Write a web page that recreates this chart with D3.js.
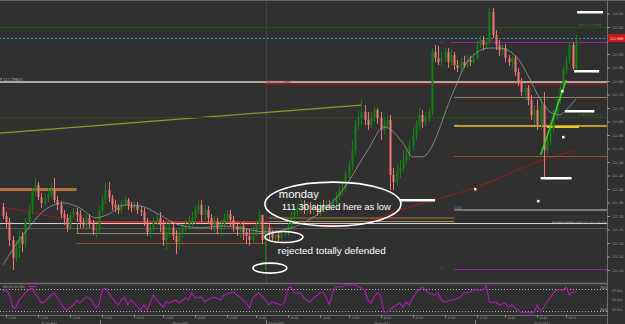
<!DOCTYPE html>
<html><head><meta charset="utf-8">
<script src="https://cdn.jsdelivr.net/npm/d3@7"></script>
<style>html,body{margin:0;padding:0;background:#303030;overflow:hidden}svg{display:block}</style>
</head><body>
<svg id="c" width="625" height="324"></svg>
<script>
// ---------------- DATA ----------------
const firstOpen = 111.333;
const closes = [111.300,111.278,111.211,111.144,111.181,111.226,111.196,111.278,111.322,111.389,
111.415,111.370,111.348,111.367,111.381,111.396,111.359,111.341,111.307,111.293,
111.256,111.304,111.315,111.304,111.278,111.267,111.293,111.270,111.248,111.256,
111.322,111.359,111.396,111.367,111.341,111.330,111.322,111.348,111.359,111.341,
111.330,111.341,111.322,111.315,111.278,111.241,111.256,111.278,111.293,111.267,
111.211,111.241,111.256,111.226,111.204,111.233,111.256,111.263,111.278,111.293,
111.322,111.341,111.304,111.322,111.293,111.267,111.278,111.256,111.270,111.293,
111.307,111.285,111.263,111.248,111.263,111.241,111.226,111.211,111.241,111.270,
111.304,111.211,111.256,111.233,111.219,111.230,111.219,111.233,111.241,111.267,
111.293,111.315,111.330,111.341,111.322,111.341,111.322,111.330,111.315,111.341,
111.330,111.344,111.337,111.352,111.374,111.396,111.404,111.452,111.489,111.544,
111.637,111.663,111.685,111.656,111.637,111.663,111.693,111.663,111.619,111.637,
111.656,111.452,111.426,111.463,111.478,111.507,111.526,111.563,111.600,111.637,
111.674,111.648,111.663,111.685,111.907,111.885,111.870,111.885,111.907,111.870,
111.896,111.859,111.848,111.870,111.856,111.878,111.870,111.885,111.933,111.952,
111.933,111.944,112.056,111.970,111.933,111.915,111.922,111.885,111.870,111.885,
111.833,111.796,111.759,111.774,111.730,111.674,111.693,111.637,111.711,111.544,
111.581,111.626,111.674,111.730,111.774,111.841,111.878,111.933,111.848,111.959];
const highs = [111.348,111.315,111.293,111.226,111.211,111.248,111.241,111.293,111.341,111.404,
111.441,111.426,111.385,111.385,111.404,111.419,111.441,111.374,111.356,111.322,
111.307,111.315,111.330,111.330,111.322,111.293,111.307,111.307,111.285,111.270,
111.337,111.374,111.426,111.426,111.378,111.359,111.344,111.359,111.374,111.367,
111.352,111.352,111.352,111.337,111.330,111.293,111.270,111.293,111.307,111.315,
111.285,111.278,111.278,111.270,111.248,111.256,111.270,111.285,111.300,111.315,
111.337,111.359,111.359,111.341,111.337,111.307,111.300,111.293,111.285,111.307,
111.322,111.322,111.300,111.278,111.278,111.278,111.256,111.248,111.263,111.285,
111.322,111.304,111.267,111.270,111.248,111.248,111.241,111.248,111.256,111.285,
111.315,111.337,111.344,111.359,111.359,111.352,111.352,111.344,111.344,111.352,
111.359,111.359,111.359,111.367,111.389,111.411,111.426,111.470,111.507,111.581,
111.656,111.693,111.730,111.711,111.685,111.685,111.707,111.700,111.685,111.663,
111.674,111.674,111.478,111.489,111.507,111.544,111.552,111.581,111.626,111.656,
111.700,111.693,111.685,111.700,111.922,111.933,111.930,111.907,111.922,111.922,
111.915,111.907,111.878,111.885,111.893,111.896,111.893,111.900,111.952,111.967,
111.967,111.959,112.070,112.070,111.989,111.952,111.937,111.937,111.896,111.900,
111.896,111.848,111.811,111.785,111.785,111.748,111.711,111.730,111.744,111.759,
111.600,111.641,111.693,111.748,111.789,111.856,111.896,111.944,111.944,111.970];
const lows = [111.289,111.256,111.189,111.100,111.130,111.144,111.167,111.181,111.256,111.307,
111.374,111.359,111.330,111.337,111.352,111.367,111.348,111.322,111.293,111.267,
111.241,111.248,111.293,111.278,111.256,111.256,111.248,111.256,111.230,111.219,
111.241,111.307,111.344,111.352,111.322,111.315,111.307,111.307,111.337,111.322,
111.315,111.319,111.307,111.300,111.263,111.226,111.219,111.241,111.263,111.241,
111.189,111.174,111.219,111.211,111.159,111.174,111.219,111.241,111.248,111.263,
111.270,111.307,111.278,111.285,111.270,111.248,111.241,111.233,111.226,111.256,
111.278,111.263,111.241,111.226,111.219,111.211,111.196,111.189,111.196,111.226,
111.256,111.196,111.100,111.211,111.204,111.207,111.204,111.211,111.219,111.226,
111.256,111.278,111.300,111.315,111.307,111.307,111.307,111.307,111.300,111.300,
111.315,111.315,111.322,111.322,111.337,111.359,111.374,111.389,111.433,111.470,
111.526,111.619,111.637,111.637,111.619,111.626,111.648,111.641,111.581,111.600,
111.626,111.396,111.396,111.411,111.441,111.463,111.489,111.507,111.544,111.581,
111.619,111.626,111.633,111.648,111.674,111.870,111.859,111.856,111.870,111.848,
111.856,111.841,111.833,111.833,111.848,111.848,111.856,111.863,111.878,111.922,
111.915,111.922,111.933,111.959,111.915,111.893,111.896,111.870,111.856,111.848,
111.819,111.781,111.744,111.730,111.711,111.656,111.637,111.619,111.619,111.444,
111.526,111.563,111.611,111.656,111.715,111.759,111.826,111.863,111.841,111.841];

// moving averages (candle index, value)
const maFastIdx = [0,4,8,13,19,24,29,33,38,43,49,55,62,68,74,82,90,98,105,114,119,125,128,131,141,145,152,155,160,164,168,171,174,176,179];
const maFastVal = [111.119,111.193,111.256,111.322,111.348,111.330,111.293,111.307,111.341,111.337,111.304,111.267,111.256,111.263,111.256,111.241,111.256,111.304,111.378,111.544,111.630,111.570,111.519,111.519,111.767,111.870,111.922,111.922,111.896,111.822,111.730,111.685,111.674,111.693,111.733];
const maSlowIdx = [0,10,20,27,46,65,82,88,108,124,148,167,179];
const maSlowVal = [111.333,111.311,111.289,111.281,111.278,111.274,111.263,111.252,111.263,111.322,111.407,111.500,111.544];

// RSI (candle index, value)
const rsiIdx = [0,1,2,3,4,5,6,7,8,9,10,11,12,13,15,16,17,18,19,20,22,23,24,26,27,28,29,30,31,32,33,34,35,36,37,38,39,40,41,43,44,45,46,47,48,50,51,52,54,55,57,58,59,60,62,63,65,66,68,69,71,72,74,76,77,78,79,80,82,83,84,85,87,88,89,90,91,93,94,96,97,99,100,101,102,103,104,106,107,108,110,112,113,114,115,116,117,118,119,120,122,123,124,125,126,127,128,129,130,131,132,133,135,136,137,138,140,141,143,144,146,147,148,150,151,152,153,154,155,157,158,159,160,161,162,164,165,166,167,168,169,170,171,172,173,175,176,177,178,179];
const rsiVal = [66.4,68.2,59.1,37.3,35.5,50.0,55.5,64.5,68.2,71.8,62.7,53.6,44.5,46.4,59.1,62.7,53.6,44.5,35.5,31.8,40.9,50.0,44.5,55.5,53.6,46.4,35.5,40.9,68.2,71.8,62.7,55.5,46.4,40.9,50.0,55.5,40.9,50.0,44.5,31.8,40.9,31.8,44.5,59.1,50.0,37.3,46.4,44.5,50.0,44.5,53.6,50.0,62.7,53.6,55.5,46.4,53.6,55.5,50.0,59.1,62.7,64.5,55.5,44.5,35.5,53.6,59.1,62.7,50.0,40.9,46.4,44.5,40.9,44.5,71.8,73.6,62.7,62.7,53.6,46.4,53.6,62.7,64.5,55.5,40.9,64.5,73.6,73.6,77.3,77.3,77.3,71.8,68.2,50.0,44.5,55.5,62.7,59.1,28.2,28.2,37.3,40.9,44.5,37.3,46.4,40.9,53.6,62.7,68.2,73.6,68.2,62.7,59.1,62.7,50.0,46.4,50.0,50.0,55.5,62.7,64.5,68.2,68.2,68.2,77.3,46.4,44.5,46.4,40.9,44.5,37.3,40.9,35.5,31.8,26.4,28.2,26.4,28.2,40.9,28.2,37.3,46.4,53.6,62.7,68.2,68.2,73.6,59.1,64.5,64.5];
const rsiLevels = [70, 30];
const rsiScaleTicks = [67.5, 50, 32.5];

// horizontal levels
const levelNames  = ["fib100","bid","pp","pivot","r1","tan","fib618","bf","bfHi","orange","fib236","ord1","ord2","redBar","entry","grayLow","box1","box2","box3","s2"];
const levelPrices = [112.000,111.959,111.944,111.796,111.789,111.741,111.667,111.633,111.630,111.522,111.322,111.293,111.281,111.278,111.274,111.256,111.400,111.237,111.200,111.104];
const levelStart  = [null,null,140,null,82,141,null,141,170,141,141,83,83,27,null,null,null,23,23,141];
const levelEnd    = [null,null,null,null,null,null,null,null,180,null,null,141,141,83,null,null,23,82,82,null];

// trend lines
const olive = {idx:[0,112], val:[111.607,111.711]};
const greenTrend = {idx:[168,176], val:[111.526,111.804]};

// white markers (index range, price)
const markStart = [179.4,178.5,175.6,168,124];
const markEnd   = [187.5,186.3,184.8,177.7,135];
const markPrice = [112.056,111.837,111.689,111.441,111.359];
const dotIdx   = [174.7,175,147.5,167.2];
const dotPrice = [111.763,111.593,111.400,111.356];

// axis labels
const priceTicks = [111.10,111.15,111.20,111.25,111.30,111.35,111.40,111.45,111.50,111.55,111.60,111.65,111.70,111.75,111.80,111.85,111.90,111.95,112.00,112.05,112.10];
const timeIdx = [1,11,21,31,41,50,60,70,79,89,99,108,118,128,138,148,157,167,176];
const timeLabels = ["12:00","17:00","22:00","03:00","08:00","13:00","18:00","23:00","04:00","09:00","14:00","19:00","00:00","05:00","10:00","15:00","20:00","01:00","06:00"];
const dateIdx = [12,53,83,116,166];
const dateLabels = ["21 Jun 2017","22 Jun 2017","23 Jun 2017","26 Jun 2017","27 Jun 2017"];
const daySepIdx = [30.3,82.2,147.5];

// annotations
const annoText  = ["monday","111 30 agreed here as low","rejected totally defended"];
const annoIdx   = [86.2,87.1,85.9];
const annoPrice = [111.367,111.322,111.159];
const ellIdx   = [103.1,87.8,83.4];
const ellPrice = [111.344,111.222,111.107];

// ---------------- DRAW ----------------
const svg = d3.select("#c");
const W = 625, H = 324, plotR = 607, mainB = 283, indT = 283, indB = 315;
const x = d3.scaleLinear().domain([0,179]).range([3, 3+179*3.2]);
const y = d3.scaleLinear().domain([111.10,112.10]).range([270,0]);
const yr = d3.scaleLinear().domain([30,70]).range([311,289]);
const TINY = "DejaVu Sans Condensed, DejaVu Sans, sans-serif";

svg.append("rect").attr("width",W).attr("height",H).attr("fill","#303030");

svg.append("defs").append("clipPath").attr("id","mainClip")
  .append("rect").attr("x",0).attr("y",2).attr("width",plotR).attr("height",mainB-2);
const g = svg.append("g").attr("clip-path","url(#mainClip)");

g.append("line").attr("x1",Math.round(x(82.2))+0.5).attr("x2",Math.round(x(82.2))+0.5)
  .attr("y1",0).attr("y2",mainB).attr("stroke","#454545").attr("stroke-width",1);

const styles = {
  fib100:{c:"#2d4a22",w:1}, bid:{c:"#22a4ad",w:1,dash:"2,2"}, pp:{c:"#a01fa0",w:1},
  pivot:{c:"#a8a8a8",w:2}, r1:{c:"#8e1b1b",w:1.5}, tan:{c:"#9a8468",w:1},
  fib618:{c:"#2d4a22",w:1}, bf:{c:"#c49a1c",w:2}, bfHi:{c:"#e3cc3a",w:2},
  orange:{c:"#a8502c",w:1}, fib236:{c:"#7a7a7a",w:2}, ord1:{c:"#b8702e",w:1.2},
  ord2:{c:"#a68a62",w:1}, redBar:{c:"#c42424",w:2}, entry:{c:"#cfcfcf",w:1},
  grayLow:{c:"#5a5a5a",w:1}, box1:{c:"#b0743a",w:3}, box2:{c:"#a08a60",w:1},
  box3:{c:"#a0502c",w:1}, s2:{c:"#8a2a9a",w:1}
};
const xl = v => v===null ? -5 : x(v);
const xr2 = v => v===null ? plotR : Math.min(plotR, x(v));

g.append("line").attr("x1",x(olive.idx[0])-3).attr("y1",y(olive.val[0]))
  .attr("x2",x(olive.idx[1])).attr("y2",y(olive.val[1]))
  .attr("stroke","#8f9a2a").attr("stroke-width",1.2);

const lineGen = d3.line().x(d=>x(d[0])).y(d=>y(d[1])).curve(d3.curveMonotoneX);
g.append("path").datum(maSlowIdx.map((d,i)=>[d,maSlowVal[i]])).attr("d",lineGen)
  .attr("fill","none").attr("stroke","#9a1c1c").attr("stroke-width",1);

levelNames.forEach((n,i)=>{
  const s = styles[n];
  const yy = Math.round(y(levelPrices[i])) + (s.w%2===1?0.5:0);
  const l = g.append("line").attr("x1",xl(levelStart[i])).attr("x2",xr2(levelEnd[i]))
    .attr("y1",yy).attr("y2",yy).attr("stroke",s.c).attr("stroke-width",s.w);
  if(s.dash) l.attr("stroke-dasharray",s.dash);
});
g.append("line").attr("x1",Math.round(x(23))+0.5).attr("x2",Math.round(x(23))+0.5)
  .attr("y1",y(111.274)).attr("y2",y(111.237)).attr("stroke","#a08a60");

// candles
const up = "#128012", dn = "#f27676";
const cg = g.append("g");
closes.forEach((c,i)=>{
  const o = i===0 ? firstOpen : closes[i-1];
  const col = c>=o ? up : dn;
  const cx = Math.round(x(i));
  cg.append("line").attr("x1",cx+0.5).attr("x2",cx+0.5)
    .attr("y1",y(highs[i])).attr("y2",y(lows[i])).attr("stroke",col).attr("stroke-width",1);
  const top = y(Math.max(o,c)), bot = y(Math.min(o,c));
  cg.append("rect").attr("x",cx-0.5).attr("width",2)
    .attr("y",top).attr("height",Math.max(1,bot-top)).attr("fill",col);
});

g.append("path").datum(maFastIdx.map((d,i)=>[d,maFastVal[i]])).attr("d",lineGen)
  .attr("fill","none").attr("stroke","#9a9a9a").attr("stroke-width",0.8);

g.append("line").attr("x1",x(greenTrend.idx[0])).attr("y1",y(greenTrend.val[0]))
  .attr("x2",x(greenTrend.idx[1])).attr("y2",y(greenTrend.val[1]))
  .attr("stroke","#3fcf2a").attr("stroke-width",1.5);

markStart.forEach((s,i)=>{
  const yy = Math.round(y(markPrice[i]));
  g.append("rect").attr("x",x(s)).attr("width",x(markEnd[i])-x(s)).attr("y",yy-1).attr("height",2.5)
   .attr("fill","#ffffff");
});
dotIdx.forEach((d,i)=>{
  g.append("rect").attr("x",x(d)-1).attr("y",y(dotPrice[i])-1).attr("width",2.5).attr("height",2.5).attr("fill","#fff");
});

// tiny labels
const small = (t,xx,yy,col,fs,anchor)=> svg.append("text").attr("x",xx).attr("y",yy).text(t)
    .attr("font-family",TINY).attr("font-size",fs).attr("fill",col)
    .attr("text-anchor",anchor||"start");
small("P 111.79633",0,y(111.796)-1.5,"#b0b0b0",4);
small("R1 111.7868",x(82)+1,y(111.789)-0.8,"#b02020",4.2);
small("100% (112.000)",578,y(112.000)-1,"#3c8a2c",3.2);
small("61.8% (111.667)",578,y(111.667)-1,"#3c8a2c",3.2);
small("PP",x(136.5),y(111.944)+1.5,"#a020a0",3.5);
small("BF",x(141),y(111.633)+1.3,"#b0b0b0",3.5);
small("23.6",x(141),y(111.322)-1,"#9a9a9a",3.5);
small("REVERSE ENTRY UNIT 111.27 (+21.37)",plotR-1,y(111.274)+1.3,"#c8c8c8",3.1,"end");
small("S2",x(136.5),y(111.104)+1.3,"#8a2a9a",3.5);

// annotations
[0,1,2].forEach(i=>{
  const rx=[68,19,17][i], ry=[22,5.5,5][i];
  svg.append("ellipse").attr("cx",x(ellIdx[i])).attr("cy",y(ellPrice[i])).attr("rx",rx).attr("ry",ry)
    .attr("fill","none").attr("stroke","#ffffff").attr("stroke-width",1.6);
});
const tl = [40,109,108];
const fsA = [11,9.8,9.8];
annoText.forEach((t,i)=>{
  svg.append("text").attr("x",x(annoIdx[i])).attr("y",y(annoPrice[i])).text(t)
    .attr("font-family","Liberation Sans, Arial, sans-serif").attr("font-size",fsA[i]).attr("fill","#ffffff")
    .attr("textLength",tl[i]).attr("lengthAdjust","spacingAndGlyphs");
});

// panel borders
svg.append("line").attr("x1",0).attr("x2",W).attr("y1",0.5).attr("y2",0.5).attr("stroke","#6a6a6a");
svg.append("line").attr("x1",0).attr("x2",plotR).attr("y1",mainB+0.5).attr("y2",mainB+0.5).attr("stroke","#707070").attr("stroke-width",1.5);
svg.append("line").attr("x1",0).attr("x2",plotR).attr("y1",indB+0.5).attr("y2",indB+0.5).attr("stroke","#707070");
svg.append("line").attr("x1",plotR+0.5).attr("x2",plotR+0.5).attr("y1",0).attr("y2",H).attr("stroke","#707070");

// right price axis (the label under the price box is covered, as in the reference)
const lastC = closes[closes.length-1];
const visibleTicks = priceTicks.filter(t => Math.abs(y(t)-y(lastC)) > 6 && y(t) > 2);
const ax = svg.append("g").attr("transform",`translate(${plotR},0)`)
  .call(d3.axisRight(y).tickValues(visibleTicks).tickSize(3).tickFormat(d3.format(".2f")));
ax.select(".domain").remove();
ax.selectAll("line").attr("stroke","#9a9a9a");
ax.selectAll("text").attr("font-size",3.6).attr("fill","#a8a8a8").attr("font-family",TINY).attr("x",5);

svg.append("rect").attr("x",plotR+1).attr("y",y(lastC)-4).attr("width",W-plotR-1).attr("height",8).attr("fill","#c81818");
small(d3.format(".3f")(lastC),plotR+3,y(lastC)+1.5,"#ffffff",3.6);

// indicator panel
const gi = svg.append("g");
rsiLevels.forEach(v=>{
  gi.append("line").attr("x1",0).attr("x2",plotR).attr("y1",Math.round(yr(v))+0.5).attr("y2",Math.round(yr(v))+0.5)
    .attr("stroke","#bdbdbd").attr("stroke-dasharray","1,2");
  small(d3.format(".1f")(v),plotR-7,yr(v)-0.5,"#d0d0d0",3.4);
});
gi.append("path").datum(rsiIdx.map((d,i)=>[d,rsiVal[i]]))
  .attr("d",d3.line().x(d=>x(d[0])).y(d=>yr(d[1])))
  .attr("fill","none").attr("stroke","#b01ab8").attr("stroke-width",1.1);
small("RSI(14) 64.504",3,indT+5,"#b0b0b0",3.2);
gi.append("line").attr("x1",28).attr("x2",37).attr("y1",indT+3.5).attr("y2",indT+3.5).attr("stroke","#b01ab8");
rsiScaleTicks.forEach(v=> small(d3.format(".3f")(v),plotR+5,yr(v)+1.3,"#a8a8a8",3.3));

// time axis
timeIdx.forEach((t,i)=>{
  const xx = Math.round(x(t))+0.5;
  svg.append("line").attr("x1",xx).attr("x2",xx).attr("y1",indB).attr("y2",indB+3).attr("stroke","#8a8a8a");
  small(timeLabels[i],xx+2,indB+4.3,"#a0a0a0",3);
});
daySepIdx.forEach(t=>{
  const xx = Math.round(x(t))+0.5;
  svg.append("line").attr("x1",xx).attr("x2",xx).attr("y1",indB+5).attr("y2",H).attr("stroke","#8a8a8a");
});
dateIdx.forEach((t,i)=> small(dateLabels[i],x(t),H-0.5,"#a0a0a0",2.9));
</script>
</body></html>
